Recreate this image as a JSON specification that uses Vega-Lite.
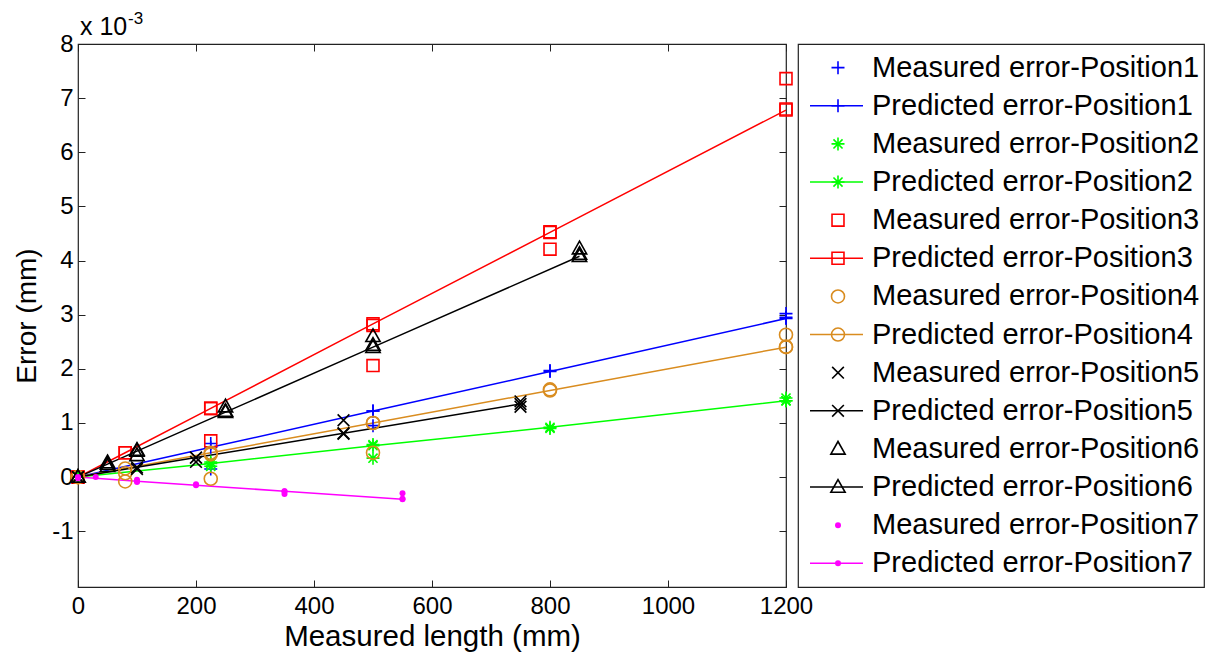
{
  "$schema": "https://vega.github.io/schema/vega-lite/v6.json",
  "padding": {"left": 13, "top": 9, "right": 5, "bottom": 5},
  "background": "white",
  "spacing": 12,
  "bounds": "flush",
  "config": {
    "font": "Liberation Sans",
    "view": {"stroke": "#222", "strokeWidth": 1.2},
    "axis": {"domain": false, "grid": false, "labelFont": "Liberation Sans", "titleFont": "Liberation Sans", "labelColor": "#000", "titleColor": "#000", "tickColor": "#222", "titleFontWeight": "normal"}
  },
  "datasets": {
    "main": [
      {"p":"Position1","k":"Predicted","x":0,"y":0},{"p":"Position1","k":"Predicted","x":225,"y":0.55},{"p":"Position1","k":"Predicted","x":500,"y":1.22},{"p":"Position1","k":"Predicted","x":800,"y":1.95},{"p":"Position1","k":"Predicted","x":1200,"y":2.93},
      {"p":"Position1","k":"Measured","x":0,"y":0},{"p":"Position1","k":"Measured","x":225,"y":0.62},{"p":"Position1","k":"Measured","x":225,"y":0.15},{"p":"Position1","k":"Measured","x":500,"y":1.22},{"p":"Position1","k":"Measured","x":500,"y":0.95},{"p":"Position1","k":"Measured","x":800,"y":1.97},{"p":"Position1","k":"Measured","x":1200,"y":3.02},{"p":"Position1","k":"Measured","x":1200,"y":2.95},
      {"p":"Position2","k":"Predicted","x":0,"y":0},{"p":"Position2","k":"Predicted","x":225,"y":0.25},{"p":"Position2","k":"Predicted","x":500,"y":0.58},{"p":"Position2","k":"Predicted","x":800,"y":0.92},{"p":"Position2","k":"Predicted","x":1200,"y":1.41},
      {"p":"Position2","k":"Measured","x":0,"y":0},{"p":"Position2","k":"Measured","x":225,"y":0.2},{"p":"Position2","k":"Measured","x":225,"y":0.28},{"p":"Position2","k":"Measured","x":500,"y":0.6},{"p":"Position2","k":"Measured","x":500,"y":0.35},{"p":"Position2","k":"Measured","x":800,"y":0.9},{"p":"Position2","k":"Measured","x":1200,"y":1.46},{"p":"Position2","k":"Measured","x":1200,"y":1.41},
      {"p":"Position3","k":"Predicted","x":0,"y":0},{"p":"Position3","k":"Predicted","x":80,"y":0.45},{"p":"Position3","k":"Predicted","x":225,"y":1.27},{"p":"Position3","k":"Predicted","x":500,"y":2.83},{"p":"Position3","k":"Predicted","x":800,"y":4.52},{"p":"Position3","k":"Predicted","x":1200,"y":6.78},
      {"p":"Position3","k":"Measured","x":0,"y":0},{"p":"Position3","k":"Measured","x":80,"y":0.45},{"p":"Position3","k":"Measured","x":225,"y":1.27},{"p":"Position3","k":"Measured","x":225,"y":0.67},{"p":"Position3","k":"Measured","x":500,"y":2.8},{"p":"Position3","k":"Measured","x":500,"y":2.06},{"p":"Position3","k":"Measured","x":800,"y":4.53},{"p":"Position3","k":"Measured","x":800,"y":4.21},{"p":"Position3","k":"Measured","x":1200,"y":7.36},{"p":"Position3","k":"Measured","x":1200,"y":6.8},
      {"p":"Position4","k":"Predicted","x":0,"y":0},{"p":"Position4","k":"Predicted","x":80,"y":0.16},{"p":"Position4","k":"Predicted","x":225,"y":0.45},{"p":"Position4","k":"Predicted","x":500,"y":1.0},{"p":"Position4","k":"Predicted","x":800,"y":1.6},{"p":"Position4","k":"Predicted","x":1200,"y":2.4},
      {"p":"Position4","k":"Measured","x":0,"y":0},{"p":"Position4","k":"Measured","x":80,"y":0.07},{"p":"Position4","k":"Measured","x":80,"y":-0.08},{"p":"Position4","k":"Measured","x":225,"y":0.42},{"p":"Position4","k":"Measured","x":225,"y":-0.03},{"p":"Position4","k":"Measured","x":500,"y":1.0},{"p":"Position4","k":"Measured","x":500,"y":0.45},{"p":"Position4","k":"Measured","x":800,"y":1.62},{"p":"Position4","k":"Measured","x":1200,"y":2.63},{"p":"Position4","k":"Measured","x":1200,"y":2.41},
      {"p":"Position5","k":"Predicted","x":0,"y":0},{"p":"Position5","k":"Predicted","x":100,"y":0.18},{"p":"Position5","k":"Predicted","x":200,"y":0.36},{"p":"Position5","k":"Predicted","x":450,"y":0.81},{"p":"Position5","k":"Predicted","x":750,"y":1.35},
      {"p":"Position5","k":"Measured","x":0,"y":0},{"p":"Position5","k":"Measured","x":100,"y":0.15},{"p":"Position5","k":"Measured","x":200,"y":0.28},{"p":"Position5","k":"Measured","x":200,"y":0.36},{"p":"Position5","k":"Measured","x":450,"y":1.05},{"p":"Position5","k":"Measured","x":450,"y":0.8},{"p":"Position5","k":"Measured","x":750,"y":1.4},{"p":"Position5","k":"Measured","x":750,"y":1.3},
      {"p":"Position6","k":"Predicted","x":0,"y":0},{"p":"Position6","k":"Predicted","x":50,"y":0.24},{"p":"Position6","k":"Predicted","x":100,"y":0.48},{"p":"Position6","k":"Predicted","x":250,"y":1.2},{"p":"Position6","k":"Predicted","x":500,"y":2.4},{"p":"Position6","k":"Predicted","x":850,"y":4.08},
      {"p":"Position6","k":"Measured","x":0,"y":0},{"p":"Position6","k":"Measured","x":50,"y":0.27},{"p":"Position6","k":"Measured","x":50,"y":0.2},{"p":"Position6","k":"Measured","x":100,"y":0.5},{"p":"Position6","k":"Measured","x":100,"y":0.4},{"p":"Position6","k":"Measured","x":250,"y":1.3},{"p":"Position6","k":"Measured","x":250,"y":1.22},{"p":"Position6","k":"Measured","x":500,"y":2.6},{"p":"Position6","k":"Measured","x":500,"y":2.44},{"p":"Position6","k":"Measured","x":850,"y":4.22},{"p":"Position6","k":"Measured","x":850,"y":4.12},
      {"p":"Position7","k":"Predicted","x":0,"y":0},{"p":"Position7","k":"Predicted","x":100,"y":-0.075},{"p":"Position7","k":"Predicted","x":200,"y":-0.15},{"p":"Position7","k":"Predicted","x":350,"y":-0.26},{"p":"Position7","k":"Predicted","x":550,"y":-0.41},
      {"p":"Position7","k":"Measured","x":0,"y":-0.02},{"p":"Position7","k":"Measured","x":30,"y":0},{"p":"Position7","k":"Measured","x":100,"y":-0.05},{"p":"Position7","k":"Measured","x":100,"y":-0.09},{"p":"Position7","k":"Measured","x":200,"y":-0.13},{"p":"Position7","k":"Measured","x":350,"y":-0.26},{"p":"Position7","k":"Measured","x":350,"y":-0.31},{"p":"Position7","k":"Measured","x":550,"y":-0.3},{"p":"Position7","k":"Measured","x":550,"y":-0.4}
    ],
    "legend": [
      {"i":0,"p":"Position1","k":"Measured","label":"Measured error-Position1"},
      {"i":1,"p":"Position1","k":"Predicted","label":"Predicted error-Position1"},
      {"i":2,"p":"Position2","k":"Measured","label":"Measured error-Position2"},
      {"i":3,"p":"Position2","k":"Predicted","label":"Predicted error-Position2"},
      {"i":4,"p":"Position3","k":"Measured","label":"Measured error-Position3"},
      {"i":5,"p":"Position3","k":"Predicted","label":"Predicted error-Position3"},
      {"i":6,"p":"Position4","k":"Measured","label":"Measured error-Position4"},
      {"i":7,"p":"Position4","k":"Predicted","label":"Predicted error-Position4"},
      {"i":8,"p":"Position5","k":"Measured","label":"Measured error-Position5"},
      {"i":9,"p":"Position5","k":"Predicted","label":"Predicted error-Position5"},
      {"i":10,"p":"Position6","k":"Measured","label":"Measured error-Position6"},
      {"i":11,"p":"Position6","k":"Predicted","label":"Predicted error-Position6"},
      {"i":12,"p":"Position7","k":"Measured","label":"Measured error-Position7"},
      {"i":13,"p":"Position7","k":"Predicted","label":"Predicted error-Position7"}
    ],
    "one": [{"t": "x 10", "s": "-3"}]
  },
  "hconcat": [
    {
      "width": 708,
      "height": 543,
      "layer": [
        {
          "data": {"name": "main"},
          "transform": [{"filter": "datum.k === 'Predicted'"}],
          "mark": {"type": "line", "strokeWidth": 1.5},
          "encoding": {
            "x": {"field": "x", "type": "quantitative", "scale": {"domain": [0, 1200], "nice": false},
                  "axis": {"orient": "bottom", "values": [0,200,400,600,800,1000,1200], "labelExpr": "'' + datum.value", "title": "Measured length (mm)", "labelFontSize": 24, "titleFontSize": 29.5, "tickSize": -7, "labelPadding": 14, "titlePadding": 4, "labelFlush": false}},
            "y": {"field": "y", "type": "quantitative", "scale": {"domain": [-2.03, 8], "nice": false, "zero": false},
                  "axis": {"orient": "left", "values": [-1,0,1,2,3,4,5,6,7,8], "labelExpr": "'' + datum.value", "title": "Error (mm)", "labelFontSize": 24, "titleFontSize": 28, "tickSize": -7, "labelPadding": 12, "titlePadding": 10}},
            "color": {"field": "p", "type": "nominal", "legend": null,
                      "scale": {"domain": ["Position1","Position2","Position3","Position4","Position5","Position6","Position7"], "range": ["#0000FF","#00FF00","#FF0000","#D98C1F","#000000","#000000","#FF00FF"]}}
          }
        },
        {
          "data": {"name": "main"},
          "transform": [{"filter": "datum.p !== 'Position7'"}],
          "mark": {"type": "point", "filled": false, "strokeWidth": 1.6, "size": 169, "opacity": 1},
          "encoding": {
            "x": {"field": "x", "type": "quantitative", "axis": null},
            "y": {"field": "y", "type": "quantitative", "axis": null},
            "color": {"field": "p", "type": "nominal", "legend": null},
            "shape": {"field": "p", "type": "nominal", "legend": null,
                      "scale": {"domain": ["Position1","Position2","Position3","Position4","Position5","Position6","Position7"],
                                "range": ["M-1,0L1,0M0,-1L0,1", "M-1,0L1,0M0,-1L0,1M-0.7,-0.7L0.7,0.7M-0.7,0.7L0.7,-0.7", "M-0.92,-0.92L0.92,-0.92L0.92,0.92L-0.92,0.92Z", "M1,0A1,1 0 1,1 -1,0A1,1 0 1,1 1,0Z", "M-0.9,-0.9L0.9,0.9M-0.9,0.9L0.9,-0.9", "M0,-1.15L1.1,0.8L-1.1,0.8Z", "circle"]}}
          }
        },
        {
          "data": {"name": "main"},
          "transform": [{"filter": "datum.p === 'Position7'"}],
          "mark": {"type": "point", "filled": true, "shape": "circle", "size": 36, "opacity": 1},
          "encoding": {
            "x": {"field": "x", "type": "quantitative", "axis": null},
            "y": {"field": "y", "type": "quantitative", "axis": null},
            "color": {"field": "p", "type": "nominal", "legend": null}
          }
        },
        {
          "data": {"name": "one"},
          "mark": {"type": "text", "align": "left", "baseline": "alphabetic", "fontSize": 25, "dx": 2, "dy": -9, "font": "Liberation Sans", "color": "#000"},
          "encoding": {
            "x": {"datum": 0, "type": "quantitative", "axis": null},
            "y": {"datum": 8, "type": "quantitative", "axis": null},
            "text": {"field": "t"}
          }
        },
        {
          "data": {"name": "one"},
          "mark": {"type": "text", "align": "left", "baseline": "alphabetic", "fontSize": 17, "dx": 50, "dy": -20, "font": "Liberation Sans", "color": "#000"},
          "encoding": {
            "x": {"datum": 0, "type": "quantitative", "axis": null},
            "y": {"datum": 8, "type": "quantitative", "axis": null},
            "text": {"field": "s"}
          }
        },
        {
          "data": {"name": "one"},
          "mark": {"type": "point", "opacity": 0},
          "encoding": {
            "x": {"datum": 0, "type": "quantitative", "axis": {"orient": "top", "values": [0,200,400,600,800,1000,1200], "labels": false, "title": null, "tickSize": -7}},
            "y": {"datum": 0, "type": "quantitative", "axis": {"orient": "right", "values": [-1,0,1,2,3,4,5,6,7,8], "labels": false, "title": null, "tickSize": -7}}
          }
        }
      ],
      "resolve": {"axis": {"x": "independent", "y": "independent"}}
    },
    {
      "width": 406,
      "height": 543,
      "data": {"name": "legend"},
      "encoding": {
        "y": {"field": "i", "type": "quantitative", "scale": {"domain": [-0.62, 13.62], "reverse": true, "nice": false, "zero": false}, "axis": null}
      },
      "layer": [
        {
          "transform": [{"filter": "datum.k === 'Predicted'"}],
          "mark": {"type": "rule", "strokeWidth": 1.5},
          "encoding": {
            "x": {"datum": 12, "type": "quantitative", "scale": {"domain": [0, 406], "nice": false}, "axis": null},
            "x2": {"datum": 65},
            "color": {"field": "p", "type": "nominal", "legend": null}
          }
        },
        {
          "transform": [{"filter": "datum.p !== 'Position7'"}],
          "mark": {"type": "point", "filled": false, "strokeWidth": 1.6, "size": 169, "opacity": 1},
          "encoding": {
            "x": {"datum": 40, "type": "quantitative"},
            "color": {"field": "p", "type": "nominal", "legend": null},
            "shape": {"field": "p", "type": "nominal", "legend": null}
          }
        },
        {
          "transform": [{"filter": "datum.p === 'Position7'"}],
          "mark": {"type": "point", "filled": true, "shape": "circle", "size": 36, "opacity": 1},
          "encoding": {
            "x": {"datum": 40, "type": "quantitative"},
            "color": {"field": "p", "type": "nominal", "legend": null}
          }
        },
        {
          "mark": {"type": "text", "align": "left", "baseline": "middle", "fontSize": 29, "font": "Liberation Sans", "color": "#000"},
          "encoding": {
            "x": {"datum": 74, "type": "quantitative"},
            "text": {"field": "label"}
          }
        }
      ]
    }
  ]
}
